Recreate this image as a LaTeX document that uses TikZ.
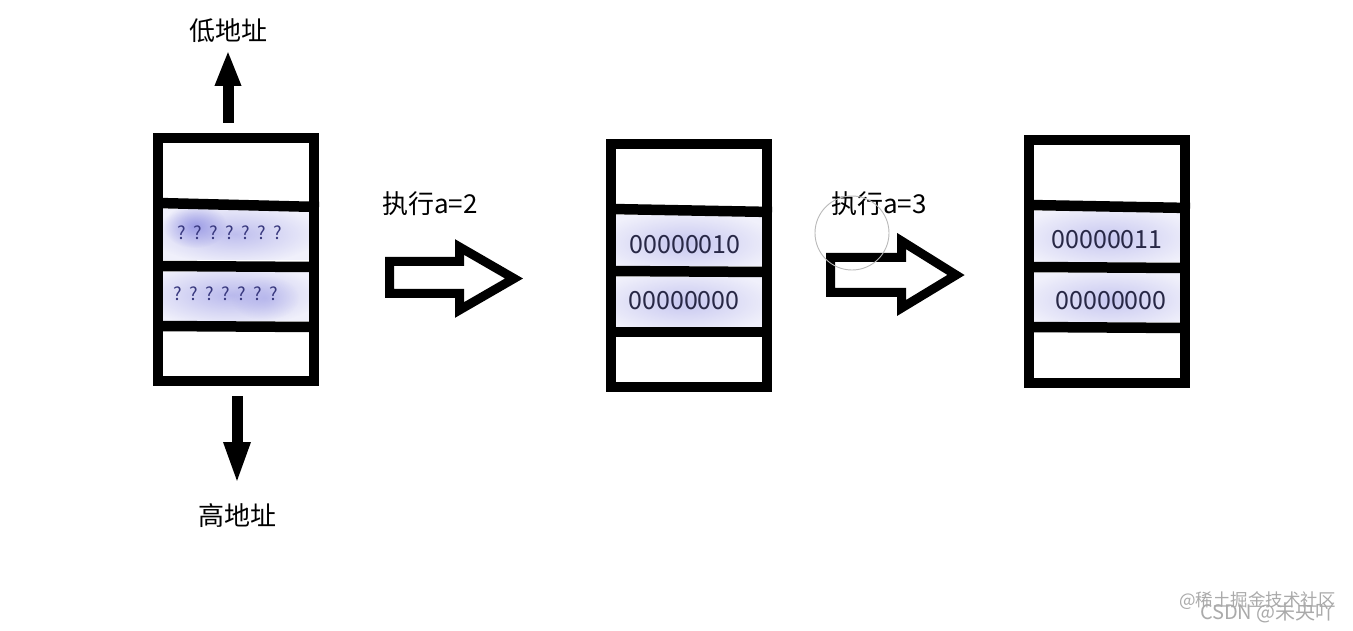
\documentclass[tikz,border=0pt]{standalone}
\usepackage{fontspec}
\newfontfamily\cjk{Noto Sans CJK SC}
\usetikzlibrary{arrows.meta,fadings}
\tikzfading[name=softglow,inner color=transparent!0,outer color=transparent!100]
\definecolor{cellbg}{RGB}{240,240,251}
\definecolor{glow}{RGB}{150,150,228}
\definecolor{numtext}{RGB}{40,40,70}
\definecolor{qtext}{RGB}{55,55,125}
\definecolor{wm}{RGB}{170,170,170}
\tikzset{
  boxline/.style={draw=black,line width=10pt,line join=miter},
  divider/.style={draw=black,line width=10.5pt},
  hollow/.style={draw=black,line width=9pt,line join=miter,miter limit=10},
  fatarrow/.style={line width=11pt},
  glowfill/.style={fill=glow,path fading=softglow},
  lbl/.style={font=\cjk\fontsize{26}{30}\selectfont,inner sep=0pt},
  num/.style={font=\cjk\fontsize{25}{29}\selectfont,text=numtext,inner sep=0pt},
  qm/.style={font=\cjk\fontsize{18}{21}\selectfont,text=qtext,inner sep=0pt},
  wmark/.style={font=\cjk\fontsize{17.5}{20}\selectfont,text=wm,inner sep=0pt},
}
\newcommand\qgap{\hspace*{7.5pt}}
\newcommand\qrow{?\qgap?\qgap?\qgap?\qgap?\qgap?\qgap?}
\begin{document}
\begin{tikzpicture}[x=1pt,y=-1pt]
\fill[white] (0,0) rectangle (1353,631);
\useasboundingbox (0,0) rectangle (1353,631);

% ---------- cell backgrounds with glow ----------
\begin{scope}
\clip (163,209) rectangle (309,260);
\fill[cellbg] (163,209) rectangle (309,260);
\fill[glowfill,fill opacity=0.55] (235,234) ellipse [x radius=85pt,y radius=30pt];
\fill[glowfill,fill opacity=0.9] (195,226) ellipse [x radius=32pt,y radius=22pt];
\end{scope}
\begin{scope}
\clip (163,272) rectangle (309,321);
\fill[cellbg] (163,272) rectangle (309,321);
\fill[glowfill,fill opacity=0.6] (230,295) ellipse [x radius=90pt,y radius=32pt];
\fill[glowfill,fill opacity=0.4] (265,298) ellipse [x radius=34pt,y radius=22pt];
\end{scope}
\begin{scope}
\clip (616,215) rectangle (762,266);
\fill[cellbg] (616,215) rectangle (762,266);
\fill[glowfill,fill opacity=0.45] (686,243) ellipse [x radius=90pt,y radius=32pt];
\end{scope}
\begin{scope}
\clip (616,277) rectangle (762,327);
\fill[cellbg] (616,277) rectangle (762,327);
\fill[glowfill,fill opacity=0.45] (685,302) ellipse [x radius=90pt,y radius=32pt];
\end{scope}
\begin{scope}
\clip (1034,211) rectangle (1180,262);
\fill[cellbg] (1034,211) rectangle (1180,262);
\fill[glowfill,fill opacity=0.45] (1107,238) ellipse [x radius=90pt,y radius=32pt];
\end{scope}
\begin{scope}
\clip (1034,273) rectangle (1180,322);
\fill[cellbg] (1034,273) rectangle (1180,322);
\fill[glowfill,fill opacity=0.45] (1110,300) ellipse [x radius=90pt,y radius=32pt];
\end{scope}

% ---------- box 1 ----------
\draw[boxline] (158,138) rectangle (314,381);
\draw[divider] (158,203) -- (319,207);
\draw[divider] (158,266) -- (314,267);
\draw[divider] (158,326) -- (314,327);
\node[qm] (q1) at (230,233) {\qrow};
\node[qm] (q2) at (226,294) {\qrow};

% ---------- box 2 ----------
\draw[boxline] (611,144) rectangle (767,387);
\draw[divider] (611,209) -- (772,212);
\draw[divider] (611,271) -- (767,272);
\draw[divider] (611,332) -- (767,332);
\node[num] (n1) at (685,245) {00000010};
\node[num] (n2) at (684,301) {00000000};

% ---------- box 3 ----------
\draw[boxline] (1029,140) rectangle (1185,383);
\draw[divider] (1029,205) -- (1190,208);
\draw[divider] (1029,267) -- (1185,268);
\draw[divider] (1029,327) -- (1185,328);
\node[num] (m1) at (1107,240) {00000011};
\node[num] (m2) at (1111,301) {00000000};

% ---------- address arrows ----------
\node[lbl] (low) at (228,31) {低地址};
\node[lbl] (high) at (237,516) {高地址};
\coordinate (u0) at (228,123);
\coordinate (u1) at (228,50);
\draw[fatarrow,-{Triangle[length=36pt,width=24pt]}] (u0) -- (u1);
\coordinate (d0) at (237,396);
\coordinate (d1) at (237,485);
\draw[fatarrow,-{Triangle[length=43pt,width=24pt]}] (d0) -- (d1);

% ---------- hollow arrows ----------
\node[lbl,anchor=west] (ex1) at (382,204) {执行a=2};
\draw[hollow] (389.5,261.5) -- (459.5,261.5) -- (459.5,247) -- (514,278.5)
  -- (459.5,310) -- (459.5,293.5) -- (389.5,293.5) -- cycle;

\node[lbl,anchor=west] (ex2) at (831,204) {执行a=3};
\draw[hollow] (830.5,257.5) -- (901.5,257.5) -- (901.5,241) -- (956,275)
  -- (901.5,308) -- (901.5,292.5) -- (830.5,292.5) -- cycle;
\draw[gray!55,line width=0.9pt] (852,233) circle [radius=37pt];

% ---------- watermark ----------
\node[wmark,anchor=east] (w1) at (1336,601) {@稀土掘金技术社区};
\node[wmark,anchor=east,font=\cjk\fontsize{20}{22}\selectfont] (w2) at (1336,613) {CSDN @未央吖};
\end{tikzpicture}
\end{document}
